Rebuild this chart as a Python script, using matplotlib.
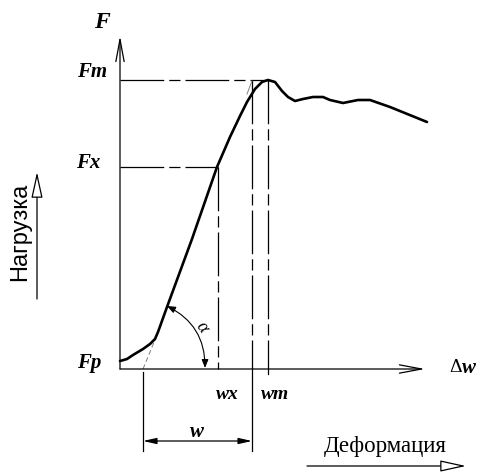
import matplotlib
matplotlib.use('Agg')
import matplotlib.pyplot as plt
from matplotlib.patches import FancyArrowPatch

# -----------------------------
# Data (origin = axes crossing, units ~ pixels)
# -----------------------------
curve_x = [0, 7, 13, 23, 30, 35, 38, 47, 72, 97, 110, 120, 127, 135, 142,
           148, 155, 162, 168, 175, 183, 193, 203, 210, 223, 238, 250, 270, 307]
curve_y = [8, 10, 14, 20, 25, 30, 37, 62, 130, 202, 232, 253, 267, 280, 287,
           289, 287, 278, 272, 268, 270, 272, 272, 269, 266, 269, 269, 262, 247]

F_m, F_x, F_p = 289, 202, 7
w_x, w_end, w_m = 98, 132, 148
w_start = 23

# -----------------------------
# Figure
# -----------------------------
fig = plt.figure(figsize=(4.79, 4.77), dpi=100)
ax = fig.add_axes([0, 0, 1, 1])
ax.set_xlim(-120, 359)
ax.set_ylim(-107, 370)
ax.axis('off')

serif = 'Liberation Serif'
dash = (0, (35, 4, 9, 4))

# axes with open chevron heads
ax.annotate('', xy=(0, 333), xytext=(0, 0),
            arrowprops=dict(arrowstyle='->,head_length=1.6,head_width=0.3',
                            lw=0.9, color='black', shrinkA=0, shrinkB=0))
ax.annotate('', xy=(305, 0), xytext=(0, 0),
            arrowprops=dict(arrowstyle='->,head_length=1.6,head_width=0.3',
                            lw=0.9, color='black', shrinkA=0, shrinkB=0))

# guide lines
ax.plot([0, w_m], [F_m, F_m], color='black', lw=0.9, linestyle=dash)
ax.plot([0, w_x], [F_x, F_x], color='black', lw=0.9, linestyle=dash)
ax.plot([w_x, w_x], [F_x, 0], color='black', lw=0.9, linestyle=dash)
ax.plot([w_end, w_end], [F_m, 0], color='black', lw=0.9, linestyle=dash)
ax.plot([w_m, w_m], [F_m, 0], color='black', lw=0.9, linestyle=dash)
ax.plot([w_m, w_m], [0, -5], color='black', lw=0.9)

# tangent helpers
ax.plot([w_start, 37], [0, 34], color='gray', lw=0.7, linestyle=(0, (5, 3)))
ax.plot([127, 132], [275, 288], color='gray', lw=0.7)

# main curve
ax.plot(curve_x, curve_y, color='black', lw=1.9, solid_capstyle='round',
        solid_joinstyle='round')

# dimension w
ax.plot([w_start, w_start], [-3, -82], color='black', lw=0.9)
ax.plot([w_end, w_end], [0, -82], color='black', lw=0.9)
ax.annotate('', xy=(w_end, -72), xytext=(w_start, -72),
            arrowprops=dict(arrowstyle='<|-|>,head_length=0.8,head_width=0.18',
                            lw=0.9, color='black', shrinkA=0, shrinkB=0))

# angle alpha
arc = FancyArrowPatch((47, 63), (85, 1), connectionstyle='arc3,rad=-0.31',
                      arrowstyle='<|-|>,head_length=5,head_width=2',
                      lw=0.8, color='black', shrinkA=0, shrinkB=0)
ax.add_patch(arc)
ax.text(82, 43, 'α', fontsize=13, family=serif, style='italic',
        rotation=-55, ha='center', va='center')

# labels
lab = dict(family=serif, style='italic', weight='bold', ha='center', va='center')
ax.text(-18, 347, 'F', fontsize=17, **lab)
ax.text(-28, 298, 'Fm', fontsize=15, **lab)
ax.text(-32, 207, 'Fx', fontsize=15, **lab)
ax.text(-31, 7, 'Fp', fontsize=15, **lab)
ax.text(107, -25, 'wx', fontsize=14, **lab)
ax.text(155, -25, 'wm', fontsize=14, **lab)
ax.text(77, -62, 'w', fontsize=15, **lab)
ax.text(342, 2, 'Δ', fontsize=14, family=serif, ha='right', va='center')
ax.text(342, 2, 'w', fontsize=15, family=serif, style='italic',
        weight='bold', ha='left', va='center')

# Нагрузка (load)
ax.text(-100, 138, 'Нагрузка', fontsize=17, family='Liberation Sans',
        rotation=90, ha='center', va='center')
ax.annotate('', xy=(-83, 197), xytext=(-83, 70),
            arrowprops=dict(arrowstyle='-|>,head_length=1.6,head_width=0.35',
                            lw=0.9, color='black', fc='white',
                            shrinkA=0, shrinkB=0))

# Деформация (deformation)
ax.text(265, -77, 'Деформация', fontsize=16.5, family=serif,
        ha='center', va='center')
ax.annotate('', xy=(346, -97), xytext=(187, -97),
            arrowprops=dict(arrowstyle='-|>,head_length=1.6,head_width=0.35',
                            lw=0.9, color='black', fc='white',
                            shrinkA=0, shrinkB=0))

fig.savefig('out.png', dpi=100, facecolor='white')
plt.close(fig)
